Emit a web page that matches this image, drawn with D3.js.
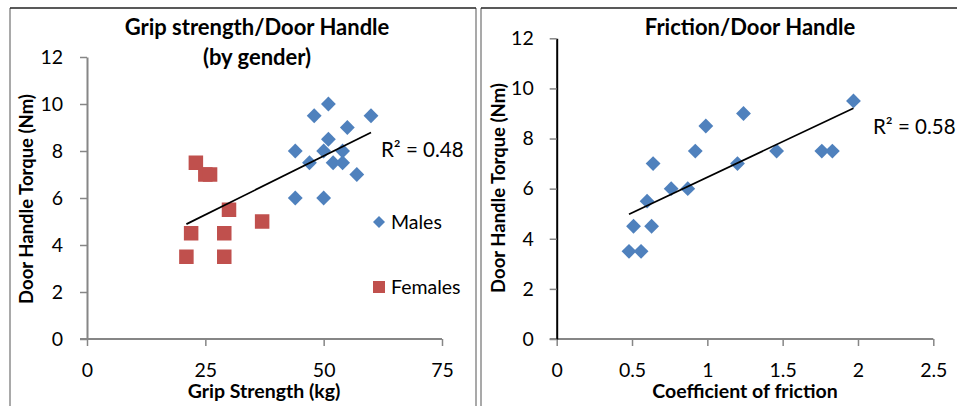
<!DOCTYPE html>
<html>
<head>
<meta charset="utf-8">
<script src="https://cdn.jsdelivr.net/npm/d3@7"></script>
<style>
  body { margin: 0; background: #fff; }
  text { font-family: Lato, "Open Sans", sans-serif; fill: #000; }
</style>
</head>
<body>
<div id="container"></div>
<script>
/* DATA */
const gripMales     = [44, 48, 51, 60, 55, 51, 50, 54, 47, 52, 54, 57, 44, 50];
const torqueMales   = [8, 9.5, 10, 9.5, 9, 8.5, 8, 8, 7.5, 7.5, 7.5, 7, 6, 6];
const gripFemales   = [23, 25, 26, 30, 37, 22, 29, 21, 29];
const torqueFemales = [7.5, 7, 7, 5.5, 5, 4.5, 4.5, 3.5, 3.5];

const friction       = [0.48, 0.51, 0.56, 0.6, 0.63, 0.64, 0.76, 0.87, 0.92, 0.99, 1.2, 1.24, 1.46, 1.76, 1.83, 1.97];
const frictionTorque = [3.5, 4.5, 3.5, 5.5, 4.5, 7, 6, 6, 7.5, 8.5, 7, 9, 7.5, 7.5, 7.5, 9.5];

const torqueTicks   = [0, 2, 4, 6, 8, 10, 12];
const gripTicks     = [0, 25, 50, 75];
const frictionTicks = [0, 0.5, 1, 1.5, 2, 2.5];

const r2Grip = "R\u00b2 = 0.48";
const r2Friction = "R\u00b2 = 0.58";

/* CONSTANTS */
const width = 957, height = 406;
const blue = "#4f81bd", red = "#c0504d";
const axisGrey = "#868686";

const svg = d3.select("#container")
  .append("svg")
  .attr("width", width)
  .attr("height", height);

// least squares line, drawn over the x range of the points
function trend(xs, ys) {
  const mx = d3.mean(xs), my = d3.mean(ys);
  const sxy = d3.sum(xs, (x, i) => (x - mx) * (ys[i] - my));
  const sxx = d3.sum(xs, x => (x - mx) * (x - mx));
  const b = sxy / sxx, a = my - b * mx;
  const x0 = d3.min(xs), x1 = d3.max(xs);
  return [[x0, a + b * x0], [x1, a + b * x1]];
}

function frame(x0, x1) {
  svg.append("line").attr("x1", x0).attr("x2", x0).attr("y1", 8).attr("y2", height)
    .attr("stroke", "#8c8c8c").attr("stroke-width", 1.5);
  if (x1 < width) {
    svg.append("line").attr("x1", x1).attr("x2", x1).attr("y1", 8).attr("y2", height)
      .attr("stroke", "#8c8c8c").attr("stroke-width", 1.5);
  }
  svg.append("line").attr("x1", x0).attr("x2", x1).attr("y1", 8).attr("y2", 8)
    .attr("stroke", "#222").attr("stroke-width", 1.5);
}

function axes(g, x, y, xTicks, yAxisColor, fmt, yPad) {
  const xa = g.append("g")
    .attr("transform", `translate(0,${y(0)})`)
    .call(d3.axisBottom(x).tickValues(xTicks).tickSize(7).tickSizeOuter(0).tickPadding(17).tickFormat(fmt));
  xa.select(".domain").attr("stroke", axisGrey).attr("stroke-width", 2)
    .attr("d", `M${x(0) - 7},0H${x(xTicks[xTicks.length - 1])}`);
  xa.selectAll(".tick line").attr("stroke", axisGrey).attr("stroke-width", 1.5);
  xa.selectAll("text").style("font-size", "19.5px").attr("fill", "#000");

  const ya = g.append("g")
    .attr("transform", `translate(${x(0)},0)`)
    .call(d3.axisLeft(y).tickValues(torqueTicks).tickSize(7).tickSizeOuter(0).tickPadding(yPad));
  ya.select(".domain").attr("stroke", yAxisColor).attr("stroke-width", 2);
  ya.selectAll(".tick line").attr("stroke", axisGrey).attr("stroke-width", 1.5);
  ya.selectAll("text").style("font-size", "19.5px").attr("fill", "#000");
}

const diamond = d3.symbol().type(d3.symbolSquare);

/* LEFT CHART: grip strength */
frame(10, 476);
const gL = svg.append("g");
const xL = d3.scaleLinear().domain([0, 75]).range([87, 442]);
const yL = d3.scaleLinear().domain([0, 12]).range([339, 57]);
axes(gL, xL, yL, gripTicks, axisGrey, d3.format("d"), 17);

gL.selectAll(".male")
  .data(gripMales.map((g, i) => [g, torqueMales[i]]))
  .enter().append("path")
  .attr("d", diamond.size(110)())
  .attr("transform", d => `translate(${xL(d[0])},${yL(d[1])}) rotate(45)`)
  .attr("fill", blue);

gL.selectAll(".female")
  .data(gripFemales.map((g, i) => [g, torqueFemales[i]]))
  .enter().append("rect")
  .attr("x", d => xL(d[0]) - 7.25)
  .attr("y", d => yL(d[1]) - 7.25)
  .attr("width", 14.5).attr("height", 14.5)
  .attr("fill", red);

const lineL = trend(gripMales.concat(gripFemales), torqueMales.concat(torqueFemales));
gL.append("path")
  .attr("d", d3.line().x(d => xL(d[0])).y(d => yL(d[1]))(lineL))
  .attr("stroke", "#000").attr("stroke-width", 1.75).attr("fill", "none");

gL.append("text").attr("x", 381).attr("y", 157).style("font-size", "20.5px").text(r2Grip);

// legend
gL.append("path").attr("d", diamond.size(72)())
  .attr("transform", "translate(379,222) rotate(45)").attr("fill", blue);
gL.append("text").attr("x", 391).attr("y", 229).style("font-size", "19.5px").text("Males");
gL.append("rect").attr("x", 373).attr("y", 281).attr("width", 12).attr("height", 12).attr("fill", red);
gL.append("text").attr("x", 391).attr("y", 294).style("font-size", "19.5px").text("Females");

gL.append("text").attr("x", 257).attr("y", 35).attr("text-anchor", "middle")
  .style("font-size", "22px").style("font-weight", "bold").text("Grip strength/Door Handle");
gL.append("text").attr("x", 257).attr("y", 65).attr("text-anchor", "middle")
  .style("font-size", "22px").style("font-weight", "bold").text("(by gender)");
gL.append("text").attr("x", 264).attr("y", 398).attr("text-anchor", "middle")
  .style("font-size", "19.5px").style("font-weight", "bold").text("Grip Strength (kg)");
gL.append("text").attr("transform", "translate(33,199) rotate(-90)").attr("text-anchor", "middle")
  .style("font-size", "18.5px").style("font-weight", "bold").text("Door Handle Torque (Nm)");

/* RIGHT CHART: friction */
frame(481, width + 2);
const gR = svg.append("g");
const xR = d3.scaleLinear().domain([0, 2.5]).range([556.7, 933.3]);
const yR = d3.scaleLinear().domain([0, 12]).range([339, 38.3]);
axes(gR, xR, yR, frictionTicks, "#000", d3.format(""), 16);

gR.selectAll(".pt")
  .data(friction.map((f, i) => [f, frictionTorque[i]]))
  .enter().append("path")
  .attr("d", diamond.size(110)())
  .attr("transform", d => `translate(${xR(d[0])},${yR(d[1])}) rotate(45)`)
  .attr("fill", blue);

const lineR = trend(friction, frictionTorque);
gR.append("path")
  .attr("d", d3.line().x(d => xR(d[0])).y(d => yR(d[1]))(lineR))
  .attr("stroke", "#000").attr("stroke-width", 1.75).attr("fill", "none");

gR.append("text").attr("x", 873).attr("y", 134).style("font-size", "20.5px").text(r2Friction);

gR.append("text").attr("x", 750).attr("y", 35).attr("text-anchor", "middle")
  .style("font-size", "22px").style("font-weight", "bold").text("Friction/Door Handle");
gR.append("text").attr("x", 745).attr("y", 398).attr("text-anchor", "middle")
  .style("font-size", "19.5px").style("font-weight", "bold").text("Coefficient of friction");
gR.append("text").attr("transform", "translate(505,188) rotate(-90)").attr("text-anchor", "middle")
  .style("font-size", "18.5px").style("font-weight", "bold").text("Door Handle Torque (Nm)");
</script>
</body>
</html>
